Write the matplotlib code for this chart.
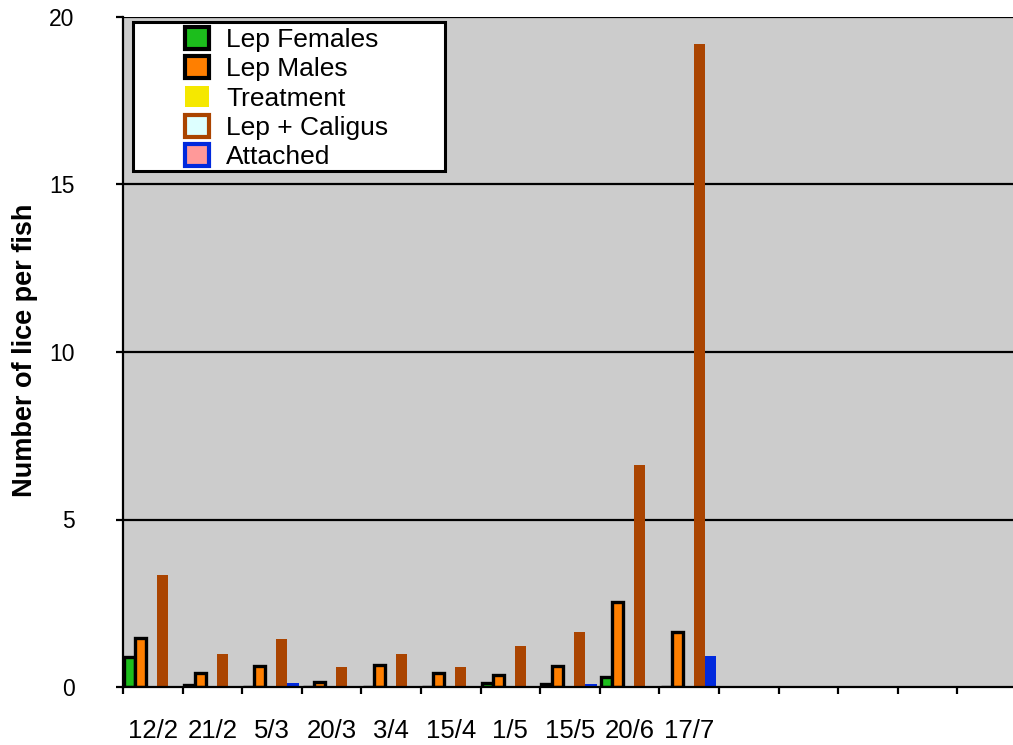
import matplotlib
matplotlib.use("Agg")
import matplotlib.pyplot as plt
import matplotlib.patches as mpatches
import numpy as np

plt.rcParams['font.family'] = ['Liberation Sans', 'DejaVu Sans']

# data
dates = ['12/2', '21/2', '5/3', '20/3', '3/4', '15/4', '1/5', '15/5', '20/6', '17/7']
n_slots = 15  # 10 dated samples + 5 empty slots
lep_females = [0.90, 0.05, 0.0, 0.0, 0.0, 0.0, 0.12, 0.09, 0.30, 0.0]
lep_males = [1.45, 0.41, 0.63, 0.15, 0.66, 0.42, 0.36, 0.63, 2.54, 1.64]
treatment = [0.0, 0.0, 0.0, 0.0, 0.0, 0.0, 0.0, 0.0, 0.0, 0.0]
lep_caligus = [3.34, 0.98, 1.43, 0.60, 0.98, 0.60, 1.22, 1.64, 6.63, 19.19]
attached = [0.0, 0.04, 0.12, 0.0, 0.0, 0.0, 0.03, 0.09, 0.03, 0.93]

series_names = ['Lep Females', 'Lep Males', 'Treatment', 'Lep + Caligus', 'Attached']
series_vals = [lep_females, lep_males, treatment, lep_caligus, attached]
bar_face = ['#1cbe1c', '#ff7f00', '#f5e800', '#aa4400', '#0029dd']
bar_edge = ['black', 'black', '#f5e800', '#aa4400', '#0029dd']
bar_lw = [2.4, 2.4, 0.0, 0.0, 0.0]
leg_face = ['#1cbe1c', '#ff7f00', '#f5e800', '#ddffff', '#ff9999']
leg_edge = ['black', 'black', '#f5e800', '#aa4400', '#0029dd']

W, H = 1013, 745
fig = plt.figure(figsize=(W / 100, H / 100), dpi=100)
ax = fig.add_axes([123 / W, 1 - 687 / H, (1017 - 123) / W, (687 - 17) / H])
ax.set_facecolor('#cccccc')

x = np.arange(len(dates))
w = 0.185
for j, vals in enumerate(series_vals):
    ax.bar(x + 0.02 + j * w, vals, width=w, align='edge', color=bar_face[j],
           edgecolor=bar_edge[j], linewidth=bar_lw[j], zorder=3)

ax.set_xlim(0, n_slots)
ax.set_ylim(0, 20)

# gridlines
ax.set_yticks([0, 5, 10, 15, 20])
for yv in [5, 10, 15, 20]:
    ax.axhline(yv, color='black', linewidth=1.6, zorder=1)

ax.tick_params(axis='y', direction='out', length=5, width=1.6, pad=30, labelsize=16.5)

# x ticks at slot boundaries, labels at slot centres
ax.set_xticks(np.arange(n_slots + 1))
ax.set_xticklabels([])
ax.set_xticks(x + 0.5, minor=True)
ax.set_xticklabels(dates, minor=True, fontsize=18.5)
ax.tick_params(axis='x', which='major', direction='out', length=5, width=1.6)
ax.tick_params(axis='x', which='minor', length=0, pad=23)

for s in ['top', 'right']:
    ax.spines[s].set_visible(False)
for s in ['left', 'bottom']:
    ax.spines[s].set_linewidth(1.6)
    ax.spines[s].set_zorder(4)

ax.set_ylabel('Number of lice per fish', fontsize=19.5, fontweight='bold')
ax.yaxis.set_label_coords(38 / W, 1 - 350 / H, transform=fig.transFigure)

# legend frame and entries
frame = mpatches.Rectangle((133 / W, 1 - 171 / H), (445 - 133) / W, (171 - 22) / H,
                           transform=fig.transFigure, facecolor='white',
                           edgecolor='black', linewidth=2.2, zorder=5)
fig.patches.append(frame)

handles = [mpatches.Patch(facecolor=leg_face[j], edgecolor=leg_edge[j],
                          linewidth=(3.0 if j != 2 else 0), label=series_names[j])
           for j in range(len(series_names))]
leg = fig.legend(handles=handles, loc='upper left',
                 bbox_to_anchor=(185 / W, 1 - 27 / H), frameon=False,
                 borderpad=0, borderaxespad=0, fontsize=19, handlelength=0.9,
                 handleheight=0.9, handletextpad=0.65, labelspacing=0.16)
leg.set_zorder(6)

plt.savefig('out.png', dpi=100)
